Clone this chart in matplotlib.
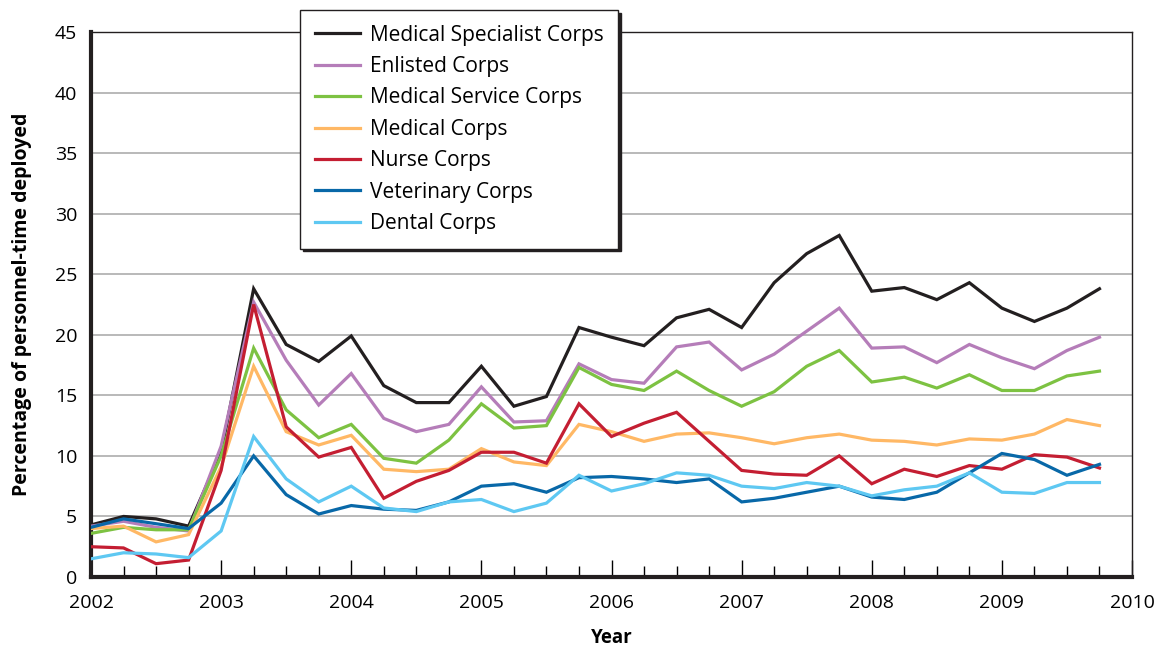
import numpy as np
import matplotlib
matplotlib.use("Agg")
import matplotlib.pyplot as plt
from matplotlib.ticker import MultipleLocator

plt.rcParams["font.family"] = ["Open Sans", "DejaVu Sans"]

# ── Data: quarterly values, 2002 Q1 .. 2009 Q4 ─────────────────────────────
quarters = np.arange(2002, 2010, 0.25)

med_specialist = [4.3, 5.0, 4.8, 4.2, 10.3, 23.8, 19.2, 17.8, 19.9, 15.8,
                  14.4, 14.4, 17.4, 14.1, 14.9, 20.6, 19.8, 19.1, 21.4, 22.1,
                  20.6, 24.3, 26.7, 28.2, 23.6, 23.9, 22.9, 24.3, 22.2, 21.1,
                  22.2, 23.8]
enlisted = [4.2, 4.6, 4.1, 3.8, 10.8, 22.7, 17.9, 14.2, 16.8, 13.1,
            12.0, 12.6, 15.7, 12.8, 12.9, 17.6, 16.3, 16.0, 19.0, 19.4,
            17.1, 18.4, 20.3, 22.2, 18.9, 19.0, 17.7, 19.2, 18.1, 17.2,
            18.7, 19.8]
med_service = [3.6, 4.1, 3.9, 3.9, 10.0, 18.9, 13.8, 11.5, 12.6, 9.8,
               9.4, 11.3, 14.3, 12.3, 12.5, 17.3, 15.9, 15.4, 17.0, 15.4,
               14.1, 15.3, 17.4, 18.7, 16.1, 16.5, 15.6, 16.7, 15.4, 15.4,
               16.6, 17.0]
medical = [4.0, 4.2, 2.9, 3.5, 9.1, 17.4, 12.0, 10.9, 11.7, 8.9,
           8.7, 8.9, 10.6, 9.5, 9.2, 12.6, 12.0, 11.2, 11.8, 11.9,
           11.5, 11.0, 11.5, 11.8, 11.3, 11.2, 10.9, 11.4, 11.3, 11.8,
           13.0, 12.5]
nurse = [2.5, 2.4, 1.1, 1.4, 8.8, 22.5, 12.4, 9.9, 10.7, 6.5,
         7.9, 8.8, 10.3, 10.3, 9.4, 14.3, 11.6, 12.7, 13.6, 11.2,
         8.8, 8.5, 8.4, 10.0, 7.7, 8.9, 8.3, 9.2, 8.9, 10.1,
         9.9, 9.0]
veterinary = [4.1, 4.8, 4.4, 4.0, 6.1, 10.0, 6.8, 5.2, 5.9, 5.6,
              5.5, 6.2, 7.5, 7.7, 7.0, 8.2, 8.3, 8.1, 7.8, 8.1,
              6.2, 6.5, 7.0, 7.5, 6.6, 6.4, 7.0, 8.6, 10.2, 9.7,
              8.4, 9.3]
dental = [1.5, 2.0, 1.9, 1.6, 3.8, 11.6, 8.1, 6.2, 7.5, 5.7,
          5.4, 6.2, 6.4, 5.4, 6.1, 8.4, 7.1, 7.7, 8.6, 8.4,
          7.5, 7.3, 7.8, 7.5, 6.7, 7.2, 7.5, 8.6, 7.0, 6.9,
          7.8, 7.8]

series = [
    ("Medical Specialist Corps", med_specialist, "#231f20"),
    ("Enlisted Corps", enlisted, "#b57db9"),
    ("Medical Service Corps", med_service, "#7dc242"),
    ("Medical Corps", medical, "#ffb865"),
    ("Nurse Corps", nurse, "#c41e32"),
    ("Veterinary Corps", veterinary, "#0868a8"),
    ("Dental Corps", dental, "#5ec8f2"),
]

# ── Figure ─────────────────────────────────────────────────────────────────
fig = plt.figure(figsize=(11.56, 6.46), dpi=100)
ax = fig.add_axes([91/1156, 1-577/646, 1041/1156, 545/646])

for label, vals, color in series:
    ax.plot(quarters, vals, color=color, lw=2.3, label=label,
            solid_joinstyle="miter", zorder=3)

ax.set_xlim(2002, 2010)
ax.set_ylim(0, 45)
ax.yaxis.set_major_locator(MultipleLocator(5))
ax.xaxis.set_major_locator(MultipleLocator(1))
ax.xaxis.set_minor_locator(MultipleLocator(0.25))
ax.grid(axis="y", color="#b3b3b3", lw=1.3, zorder=0)

ax.tick_params(axis="x", which="major", direction="in", length=12,
               width=1, labelsize=14, pad=12)
ax.tick_params(axis="x", which="minor", direction="in", length=8, width=1)
ax.tick_params(axis="y", length=0, labelsize=14, pad=10)

for side in ["left", "bottom"]:
    ax.spines[side].set_linewidth(3)
    ax.spines[side].set_color("#231f20")
for side in ["top", "right"]:
    ax.spines[side].set_linewidth(1)
    ax.spines[side].set_color("#231f20")

ax.set_xlabel("Year", fontsize=13.5, fontweight="bold", labelpad=12)
ax.set_ylabel("Percentage of personnel-time deployed", fontsize=14,
              fontweight="bold", labelpad=16)

leg = fig.legend(loc="upper left", bbox_to_anchor=(300/1156, 1-10/646),
                 fontsize=15, frameon=True, fancybox=False,
                 shadow={"color": "#231f20", "alpha": 1},
                 handlelength=2.2, handletextpad=0.45, labelspacing=0.5,
                 borderpad=0.7, borderaxespad=0)
leg.get_frame().set_edgecolor("#231f20")
leg.get_frame().set_linewidth(1)
leg.set_zorder(10)

fig.savefig("out.png", dpi=100)
plt.close()
